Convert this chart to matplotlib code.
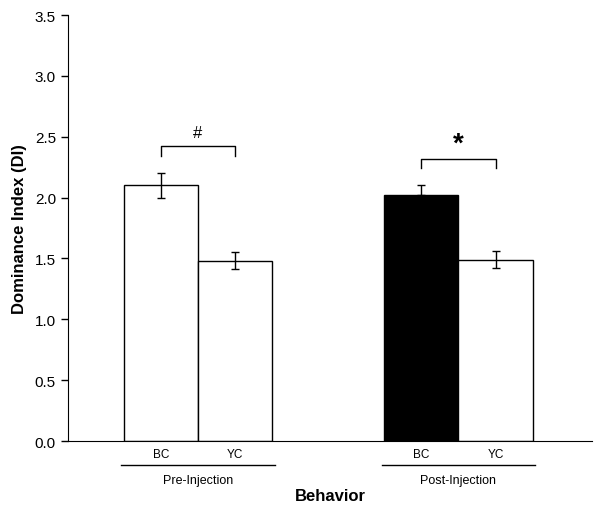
import matplotlib
matplotlib.use("Agg")
import matplotlib.pyplot as plt
import matplotlib.transforms as mtransforms

plt.rcParams["font.family"] = ["Liberation Sans", "DejaVu Sans"]

# ─── data ─────────────────────────────────────────────
conditions = ["BC", "YC", "BC", "YC"]
groups = ["Pre-Injection", "Post-Injection"]
di_mean = [2.10, 1.48, 2.02, 1.49]
di_err = [0.10, 0.07, 0.08, 0.07]
bar_colors = ["white", "white", "black", "white"]
sig_marks = ["#", "*"]
sig_height = [2.42, 2.32]
ytick_vals = [0.0, 0.5, 1.0, 1.5, 2.0, 2.5, 3.0, 3.5]

pos = [1.25, 2.25, 4.75, 5.75]

fig = plt.figure(figsize=(6, 5.1), dpi=100)
ax = fig.add_axes([0.113, 0.1333, 0.874, 0.8353])

ax.bar(pos, di_mean, width=1.0, color=bar_colors, edgecolor="black", linewidth=1.0)
# error bars: Post BC only shows the upper half
for x, m, e, c in zip(pos, di_mean, di_err, bar_colors):
    lo = 0 if c == "black" else e
    ax.errorbar(x, m, yerr=[[lo], [e]], fmt="none", ecolor="black",
                elinewidth=1.0, capsize=3, capthick=1.0)

# significance brackets
for i, (mark, h) in enumerate(zip(sig_marks, sig_height)):
    x0, x1 = pos[2 * i], pos[2 * i + 1]
    ax.plot([x0, x0, x1, x1], [h - 0.08, h, h, h - 0.08], color="black", lw=1.0)
    if mark == "#":
        ax.text((x0 + x1) / 2, h + 0.05, mark, ha="center", va="bottom", fontsize=12)
    else:
        ax.text((x0 + x1) / 2, h + 0.02, mark, ha="center", va="bottom", fontsize=20,
                fontweight="bold")

ax.set_xlim(0, 7.05)
ax.set_ylim(0, 3.5)
ax.set_yticks(ytick_vals)
ax.set_yticklabels([f"{v:.1f}" for v in ytick_vals], fontsize=11)
ax.tick_params(axis="y", direction="out", length=5, width=1)
ax.set_xticks([])
ax.spines["top"].set_visible(False)
ax.spines["right"].set_visible(False)
ax.set_ylabel("Dominance Index (DI)", fontsize=12, fontweight="bold", labelpad=6)

# category labels + group lines under axis
trans = mtransforms.blended_transform_factory(ax.transData, ax.transAxes)
for x, lab in zip(pos, conditions):
    ax.text(x, -0.031, lab, transform=trans, ha="center", va="center", fontsize=8.5)
for i, g in enumerate(groups):
    x0, x1 = pos[2 * i] - 0.53, pos[2 * i + 1] + 0.53
    ax.plot([x0, x1], [-0.056, -0.056], transform=trans, color="black", lw=1.0,
            clip_on=False)
    ax.text((x0 + x1) / 2, -0.092, g, transform=trans, ha="center", va="center",
            fontsize=9)
ax.text(0.5, -0.129, "Behavior", transform=ax.transAxes, ha="center", va="center",
        fontsize=12, fontweight="bold")

fig.savefig("out.png", dpi=100)
